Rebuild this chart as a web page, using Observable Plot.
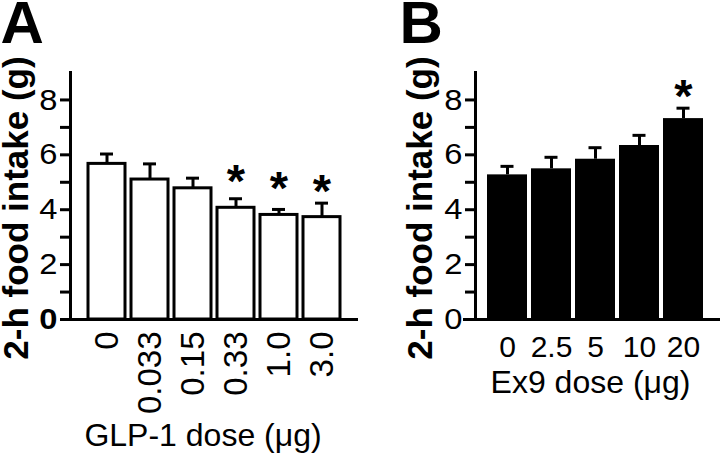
<!DOCTYPE html>
<html><head><meta charset="utf-8">
<script src="https://cdn.jsdelivr.net/npm/d3@7"></script>
<script src="https://cdn.jsdelivr.net/npm/@observablehq/plot@0.6"></script>
<style>
body{margin:0;background:#fff;}
#wrap{position:relative;width:720px;height:455px;overflow:hidden;background:#fff;}
#wrap svg{position:absolute;top:0;}
</style></head><body><div id="wrap"></div>
<script>
// Panel A: GLP-1
const glpDoses = ["0", "0.033", "0.15", "0.33", "1.0", "3.0"];
const glpMeans = [5.67, 5.10, 4.78, 4.07, 3.81, 3.73];
const glpSem   = [0.36, 0.57, 0.37, 0.33, 0.20, 0.51];
const glpStarY = [null, null, null, 5.46, 5.21, 5.09];

// Panel B: Ex9
const ex9Doses = ["0", "2.5", "5", "10", "20"];
const ex9Means = [5.27, 5.49, 5.84, 6.34, 7.32];
const ex9Sem   = [0.31, 0.42, 0.42, 0.37, 0.38];
const ex9StarY = [null, null, null, null, 8.53];

const yDomain = [0, 9];
const yMajor = [2, 4, 6, 8];
const yMinor = [1, 3, 5, 7];
const yTitle = "2-h food intake (g)";

const FONT = "'Liberation Sans', Arial, Helvetica, sans-serif";

function panel(o) {
  const data = o.doses.map((d, i) => ({dose: d, mean: o.means[i], top: o.means[i] + o.sems[i], star: o.starY[i]}));
  const svg = Plot.plot({
    width: 360, height: 455,
    marginLeft: o.marginLeft, marginRight: o.marginRight, marginTop: 72, marginBottom: 136,
    style: {fontFamily: FONT, fontSize: "30px", color: "#000", background: "transparent", overflow: "visible"},
    x: {type: "band", domain: o.doses, paddingInner: o.padInner, paddingOuter: o.padOuter, label: null},
    y: {domain: yDomain, label: null},
    marks: [
      Plot.barY(data, {x: "dose", y: "mean", fill: o.fill, stroke: o.stroke, strokeWidth: 3}),
      Plot.ruleX(data, {x: "dose", y1: "mean", y2: "top", stroke: "#000", strokeWidth: 3}),
      Plot.tickY(data, {x: "dose", y: "top", stroke: "#000", strokeWidth: 3, insetLeft: o.capInset, insetRight: o.capInset}),
      Plot.text(data.filter(d => d.star != null), {x: "dose", y: "star", text: () => "*", fontSize: 47, fontWeight: "bold", lineAnchor: "middle", dy: 12, fill: "#000"}),
      Plot.frame({anchor: "left", stroke: "#000", strokeWidth: 3}),
      Plot.ruleY([0], {stroke: "#000", strokeWidth: 3, insetLeft: o.insetL, insetRight: o.insetR}),
      Plot.axisY({ticks: yMinor, tickFormat: () => "", tickSize: 10, strokeWidth: 3, label: null}),
      Plot.axisY({ticks: yMajor, tickSize: 10, tickPadding: 3, strokeWidth: 3, fontSize: 30, label: null}),
      Plot.axisY({ticks: [0], tickSize: 10, tickPadding: 3, strokeWidth: 3, fontSize: 30, fontWeight: o.boldZero ? "bold" : "normal", label: null}),
      Plot.axisX({tickSize: 0, tickPadding: o.xPad, tickRotate: o.xRotate, fontSize: o.xFont, label: null}),
      Plot.text([yTitle], {frameAnchor: "left", textAnchor: "middle", lineAnchor: "middle", rotate: -90, dx: o.yTitleDx, dy: 12, fontWeight: "bold", fontSize: 35, fill: "#000"}),
      Plot.text([o.xTitle], {frameAnchor: "bottom", textAnchor: "middle", lineAnchor: "top", dx: o.xTitleDx, dy: o.xTitleDy, fontSize: 32, fill: "#000", ariaLabel: "stretch-title"}),
      Plot.text([o.letter], {frameAnchor: "top-left", textAnchor: "start", lineAnchor: "top", dx: o.letterDx, dy: -72, fontWeight: "bold", fontSize: 60, fill: "#000"})
    ]
  });
  svg.querySelectorAll('g[aria-label="y-axis tick label"] text, g[aria-label="stretch-title"] text').forEach(t => {
    t.setAttribute("transform", (t.getAttribute("transform") || "") + " scale(1.09,1)");
  });
  svg.style.left = o.left + "px";
  return svg;
}

const wrap = document.getElementById("wrap");
wrap.appendChild(panel({
  doses: glpDoses, means: glpMeans, sems: glpSem, starY: glpStarY,
  fill: "#fff", stroke: "#000", left: 0, marginLeft: 70, marginRight: 3,
  padInner: 0.15, padOuter: 0.38, capInset: 12, insetL: -8, insetR: -1,
  boldZero: true, xPad: 12, xRotate: -90, xFont: 33,
  yTitleDx: -54, xTitle: "GLP-1 dose (μg)", xTitleDx: -11, xTitleDy: 104,
  letter: "A", letterDx: -70
}));
wrap.appendChild(panel({
  doses: ex9Doses, means: ex9Means, sems: ex9Sem, starY: ex9StarY,
  fill: "#000", stroke: "none", left: 360, marginLeft: 115, marginRight: 5,
  padInner: 0.09, padOuter: 0.25, capInset: 13.5, insetL: -12, insetR: -5,
  boldZero: false, xPad: 16, xRotate: 0, xFont: 30,
  yTitleDx: -54.5, xTitle: "Ex9 dose (μg)", xTitleDx: -5, xTitleDy: 51,
  letter: "B", letterDx: -76
}));
</script>
</body></html>
